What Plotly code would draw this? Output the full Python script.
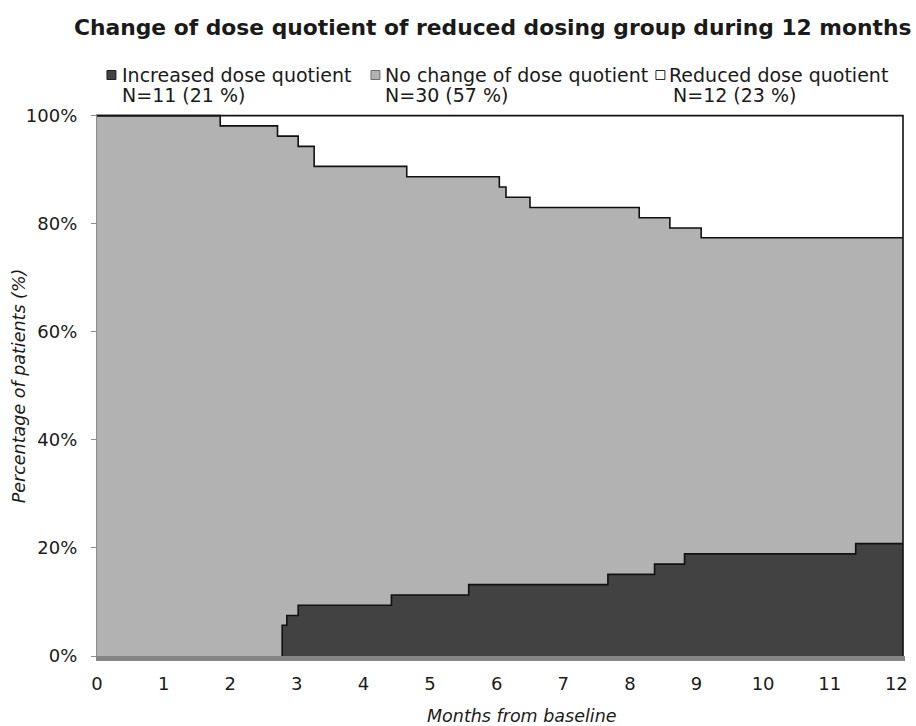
import plotly.graph_objects as go

# Cumulative share of the 53 patients (in %) whose dose quotient changed, by month
increased_months = [2.78, 2.85, 3.02, 4.42, 5.58, 7.67, 8.37, 8.82, 11.39]
increased_pct = [5.7, 7.5, 9.4, 11.3, 13.2, 15.1, 17.0, 18.9, 20.8]

reduced_months = [1.85, 2.71, 3.02, 3.26, 4.65, 6.04, 6.14, 6.50, 8.14, 8.60, 9.07]
reduced_pct = [1.9, 3.8, 5.7, 9.4, 11.3, 13.2, 15.1, 17.0, 18.9, 20.8, 22.6]

followup_end = 12.1  # last observation, months

series_names = ["Increased dose quotient", "No change of dose quotient", "Reduced dose quotient"]
series_counts = ["N=11 (21 %)", "N=30 (57 %)", "N=12 (23 %)"]
series_fill = ["#424242", "#b2b2b2", "#ffffff"]
series_edge = ["#1e1e1e", "#6e6e6e", "#2a2a2a"]

x_ticks = list(range(0, 13))
y_ticks = [0, 20, 40, 60, 80, 100]
y_tick_labels = ["0%", "20%", "40%", "60%", "80%", "100%"]

W, H = 916, 726
L, R, T, B = 97, 8, 114, 70
PW, PH = W - L - R, H - T - B
FONT = "DejaVu Sans"
TXT = "#1a1a1a"


def px_x(p):
    return (p - L) / PW


def px_y(p):
    return (H - B - p) / PH


no_change_top = [round(100 - v, 1) for v in reduced_pct]

fig = go.Figure()

# "No change" band: everything under the reduced-dose step curve
fig.add_trace(go.Scatter(
    x=[0] + reduced_months + [followup_end],
    y=[100] + no_change_top + [no_change_top[-1]],
    mode="lines", line=dict(shape="hv", color="#111111", width=1.6),
    fill="tozeroy", fillcolor=series_fill[1],
    name=series_names[1], hoverinfo="skip",
))

# "Increased" band at the bottom
fig.add_trace(go.Scatter(
    x=[increased_months[0]] + increased_months + [followup_end],
    y=[0] + increased_pct + [increased_pct[-1]],
    mode="lines", line=dict(shape="hv", color="#111111", width=1.6),
    fill="tozeroy", fillcolor=series_fill[0],
    name=series_names[0], hoverinfo="skip",
))

# "Reduced" band outline (top and right edge of the stacked area)
fig.add_trace(go.Scatter(
    x=[0, followup_end, followup_end],
    y=[100, 100, 0],
    mode="lines", line=dict(color="#111111", width=1.6),
    name=series_names[2], hoverinfo="skip",
))

# Title
annotations = [dict(
    text="<b>Change of dose quotient of reduced dosing group during 12 months</b>",
    xref="paper", yref="paper", x=px_x(494), y=px_y(28),
    xanchor="center", yanchor="middle", showarrow=False,
    font=dict(family=FONT, size=21.8, color=TXT),
)]

# Legend drawn as swatches + two text lines per entry
legend_sq = [(107, 116), (372, 381), (658, 667)]
legend_txt_x = [120, 384, 669]
legend_n_x = [120, 384, 673]
shapes = []
for i in range(3):
    x0, x1 = legend_sq[i]
    shapes.append(dict(
        type="rect", xref="paper", yref="paper",
        x0=px_x(x0), x1=px_x(x1), y0=px_y(79.5), y1=px_y(70.5),
        fillcolor=series_fill[i], line=dict(color=series_edge[i], width=1),
    ))
    annotations.append(dict(
        text=series_names[i], xref="paper", yref="paper",
        x=px_x(legend_txt_x[i]), y=px_y(75), xanchor="left", yanchor="middle",
        showarrow=False, font=dict(family=FONT, size=19, color=TXT),
    ))
    annotations.append(dict(
        text=series_counts[i], xref="paper", yref="paper",
        x=px_x(legend_n_x[i]), y=px_y(95), xanchor="left", yanchor="middle",
        showarrow=False, font=dict(family=FONT, size=19, color=TXT),
    ))

# Axis titles
annotations.append(dict(
    text="<i>Months from baseline</i>", xref="paper", yref="paper",
    x=px_x(524), y=px_y(716), xanchor="center", yanchor="middle",
    showarrow=False, font=dict(family=FONT, size=17.5, color=TXT),
))
annotations.append(dict(
    text="<i>Percentage of patients (%)</i>", xref="paper", yref="paper",
    x=px_x(19), y=px_y(386), xanchor="center", yanchor="middle",
    textangle=-90, showarrow=False, font=dict(family=FONT, size=17.5, color=TXT),
))

fig.update_layout(
    width=W, height=H, margin=dict(l=L, r=R, t=T, b=B, pad=0),
    plot_bgcolor="white", paper_bgcolor="white", showlegend=False,
    annotations=annotations, shapes=shapes,
    xaxis=dict(
        range=[0, 12.13], tickvals=x_ticks, ticks="", showgrid=False, zeroline=False,
        showline=True, linecolor="#858585", linewidth=5,
        tickfont=dict(family=FONT, size=18, color=TXT), ticklabelstandoff=7,
    ),
    yaxis=dict(
        range=[0, 100.3], tickvals=y_ticks, ticktext=y_tick_labels, ticks="outside",
        ticklen=5, tickcolor="#8c8c8c", tickwidth=1.2, showgrid=False, zeroline=False,
        showline=True, linecolor="#8c8c8c", linewidth=1.3,
        tickfont=dict(family=FONT, size=18, color=TXT), ticklabelstandoff=10,
    ),
)

fig.write_html("out.html")
